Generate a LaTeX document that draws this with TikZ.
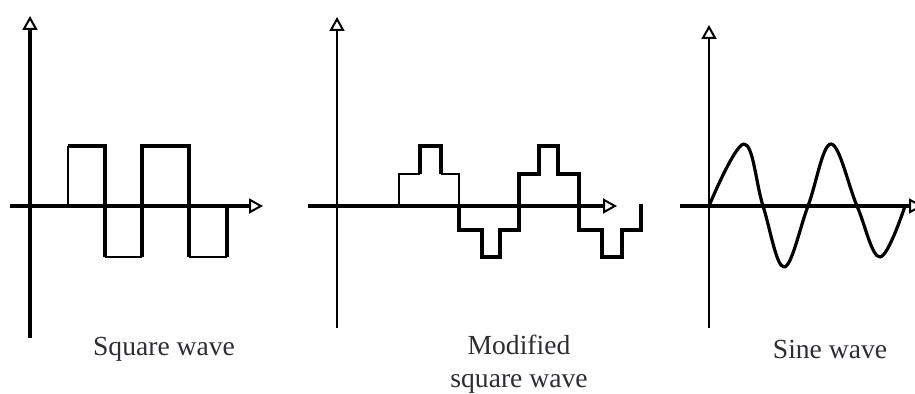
\documentclass[tikz,border=0pt]{standalone}
\usepackage{fontspec}
\setmainfont{Liberation Serif}
\usetikzlibrary{arrows.meta}
\definecolor{txt}{RGB}{45,45,55}
\begin{document}
\begin{tikzpicture}[x=0.5pt,y=-0.5pt,
  thickax/.style={line width=1.6pt,-{Triangle[open,length=7pt,width=7.5pt,line width=1pt]}},
  thinax/.style={line width=0.75pt,-{Triangle[open,length=7pt,width=7.5pt,line width=1pt]}},
  wave/.style={line width=1.6pt,line join=miter},
  thinwave/.style={line width=0.9pt},
  lbl/.style={text=txt,font=\fontsize{13.8}{16.5}\selectfont,align=center,inner sep=0pt}]
\clip (0,0) rectangle (915,394);
\useasboundingbox (0,0) rectangle (915,394);
% ---------- Panel 1: square wave ----------
\coordinate (a1b) at (30,338);
\coordinate (a1t) at (30,16);
\coordinate (h1l) at (10,206);
\coordinate (h1r) at (263,206);
\draw[thickax] (a1b) -- (a1t);
\draw[thickax] (h1l) -- (h1r);
\draw[thinwave] (68,206) -- (68,146);
\draw[wave] (68,146) -- (105,146) -- (105,257);
\draw[thinwave] (105,257) -- (142,257);
\draw[wave] (142,257) -- (142,146) -- (189,146) -- (189,257);
\draw[thinwave] (189,257) -- (227,257);
\draw[wave] (227,257) -- (227,206);
\node[lbl] (l1) at (164,349) {Square wave};
% ---------- Panel 2: modified square wave ----------
\coordinate (a2b) at (337,328);
\coordinate (a2t) at (337,17);
\coordinate (h2l) at (308,206);
\coordinate (h2r) at (617,206);
\draw[thinax] (a2b) -- (a2t);
\draw[thickax] (h2l) -- (h2r);
\draw[thinwave] (399,206) -- (399,174) -- (420,174);
\draw[wave] (420,174) -- (420,146) -- (441,146) -- (441,174);
\draw[thinwave] (441,174) -- (459,174) -- (459,206);
\draw[wave] (459,206) -- (459,230) -- (482,230) -- (482,257) -- (500,257)
  -- (500,230) -- (519,230) -- (519,174) -- (539,174) -- (539,146)
  -- (558,146) -- (558,174) -- (579,174) -- (579,230) -- (602,230)
  -- (602,257) -- (622,257) -- (622,230) -- (641,230) -- (641,204);
\node[lbl] (l2) at (519,364) {Modified\\square wave};
% ---------- Panel 3: sine wave ----------
\coordinate (a3b) at (709,328);
\coordinate (a3t) at (709,25);
\coordinate (h3l) at (680,206);
\coordinate (h3r) at (923,206);
\draw[thinax] (a3b) -- (a3t);
\draw[thickax] (h3l) -- (h3r);
\draw[wave,line join=round] plot[smooth,tension=0.62] coordinates
  {(709,206) (744,144) (763,206) (784,267) (808,206) (831,144) (857,206) (880,257) (905,206)};
\node[lbl] (l3) at (830,349) {Sine wave};
\end{tikzpicture}
\end{document}
